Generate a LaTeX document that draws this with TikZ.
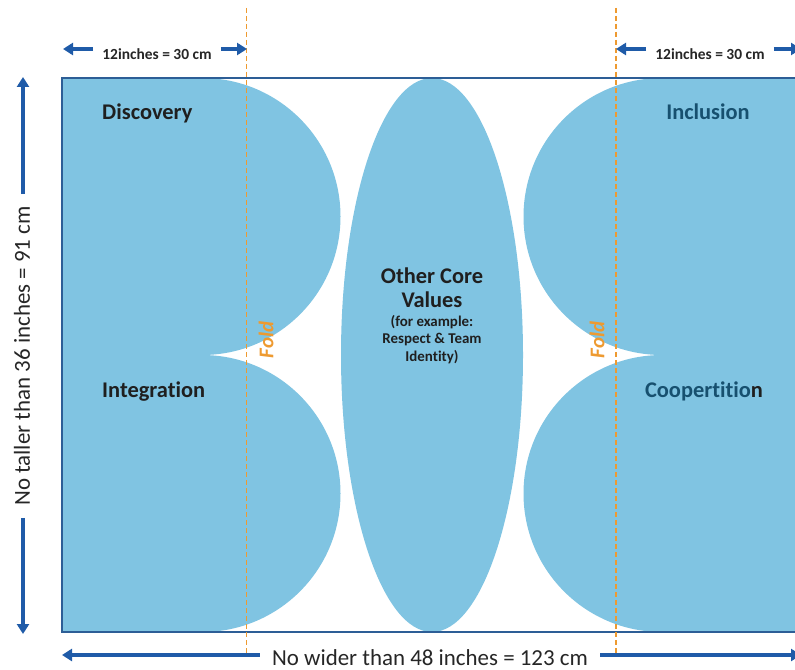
\documentclass[tikz,border=0pt]{standalone}
\usepackage{fontspec}
\setmainfont{Carlito}[RawFeature={-liga;-clig;-calt;-dlig}]
\usetikzlibrary{arrows.meta,positioning}

\definecolor{valueblue}{HTML}{80C4E2}
\definecolor{arrowblue}{HTML}{1F5BA8}
\definecolor{frameblue}{HTML}{2D5E96}
\definecolor{labelblue}{HTML}{17506F}
\definecolor{foldorange}{HTML}{EE9A30}

\begin{document}
\begin{tikzpicture}[
    x=1bp, y=-1bp,
    value/.style={
        fill=valueblue,
        draw=none
        },
    dimarrow/.style={
        -{Triangle[width=12bp,length=10bp]},
        line width=3.2bp,
        draw=arrowblue
        },
    dimtext/.style={
        font=\fontsize{23}{23}\selectfont,
        text=black!85,
        inner sep=12bp
        },
    spantext/.style={
        font=\bfseries\fontsize{15.5}{15.5}\selectfont,
        text=black!85,
        inner sep=9bp
        },
    foldline/.style={
        draw=foldorange,
        line width=1.2bp,
        dash pattern=on 5bp off 3bp
        },
    foldtext/.style={
        font=\bfseries\itshape\fontsize{21}{21}\selectfont,
        text=foldorange,
        rotate=90,
        inner sep=0pt
        },
    valuelabel/.style={
        font=\bfseries\fontsize{22.5}{22.5}\selectfont,
        text=black!88,
        inner sep=0pt
        }
]

\fill[white] (0,0) rectangle (795,670);
\useasboundingbox (0,0) rectangle (795,670);

% value shapes inside the poster
\begin{scope}
    \clip (62,78) rectangle (820,632);
    \fill[value] (40,78) -- (202,78) arc[start angle=-90, end angle=90, radius=138.5] -- (40,355) -- cycle;
    \fill[value] (40,355) -- (202,355) arc[start angle=-90, end angle=90, radius=138.5] -- (40,632) -- cycle;
    \fill[value] (830,78) -- (662,78) arc[start angle=-90, end angle=-270, radius=138.5] -- (830,355) -- cycle;
    \fill[value] (830,355) -- (662,355) arc[start angle=-90, end angle=-270, radius=138.5] -- (830,632) -- cycle;
    \fill[value] (432,355) ellipse[x radius=91, y radius=277];
\end{scope}

% draw outer border
\draw[frameblue, line width=1.8bp] (62,78) rectangle (820,632);

% fold lines
\draw[foldline] (246.5,8) -- (246.5,655);
\draw[foldline] (616,8) -- (616,655);
\node[foldtext] (leftfold) at (266,340) {Fold};
\node[foldtext] (rightfold) at (597,340) {Fold};

% value labels
\node[valuelabel, anchor=base west] (discovery) at (102,120) {Discovery};
\node[valuelabel, anchor=base west] (integration) at (102,397) {Integration};
\node[valuelabel, anchor=base, text=labelblue] (inclusion) at (708,120) {Inclusion};
\node[valuelabel, anchor=base, text=labelblue] (coopertition) at (704,397) {Coopertitio\textcolor{black!88}{n}};
\node[valuelabel, align=center, font=\bfseries\fontsize{22.5}{24}\selectfont] (othercore) at (432,288) {Other Core\\Values};
\node[valuelabel, align=center, font=\bfseries\fontsize{15}{17.5}\selectfont, below=7bp of othercore] (coreexample) {(for example:\\Respect \& Team\\Identity)};

% Arrows and labels
\node[spantext, anchor=base] (leftspan) at (157,59.5) {12inches = 30 cm};
\coordinate (leftspan-a) at (63,49);
\coordinate (leftspan-b) at (247,49);
\draw[dimarrow] (leftspan.west |- leftspan-a) -- (leftspan-a);
\draw[dimarrow] (leftspan.east |- leftspan-b) -- (leftspan-b);

\node[spantext, anchor=base] (rightspan) at (710,59.5) {12inches = 30 cm};
\coordinate (rightspan-a) at (616,49);
\coordinate (rightspan-b) at (801,49);
\draw[dimarrow] (rightspan.west |- rightspan-a) -- (rightspan-a);
\draw[dimarrow] (rightspan.east |- rightspan-b) -- (rightspan-b);

\node[dimtext, rotate=90] (heightspan) at (22,356) {No taller than 36 inches = 91 cm};
\coordinate (heightspan-a) at (23,77);
\coordinate (heightspan-b) at (23,634);
\draw[dimarrow] (heightspan.east -| heightspan-a) -- (heightspan-a);
\draw[dimarrow] (heightspan.west -| heightspan-b) -- (heightspan-b);

\node[dimtext, anchor=base] (widthspan) at (430,665) {No wider than 48 inches = 123 cm};
\coordinate (widthspan-a) at (62,655);
\coordinate (widthspan-b) at (801,655);
\draw[dimarrow] (widthspan.west |- widthspan-a) -- (widthspan-a);
\draw[dimarrow] (widthspan.east |- widthspan-b) -- (widthspan-b);

\end{tikzpicture}
\end{document}
